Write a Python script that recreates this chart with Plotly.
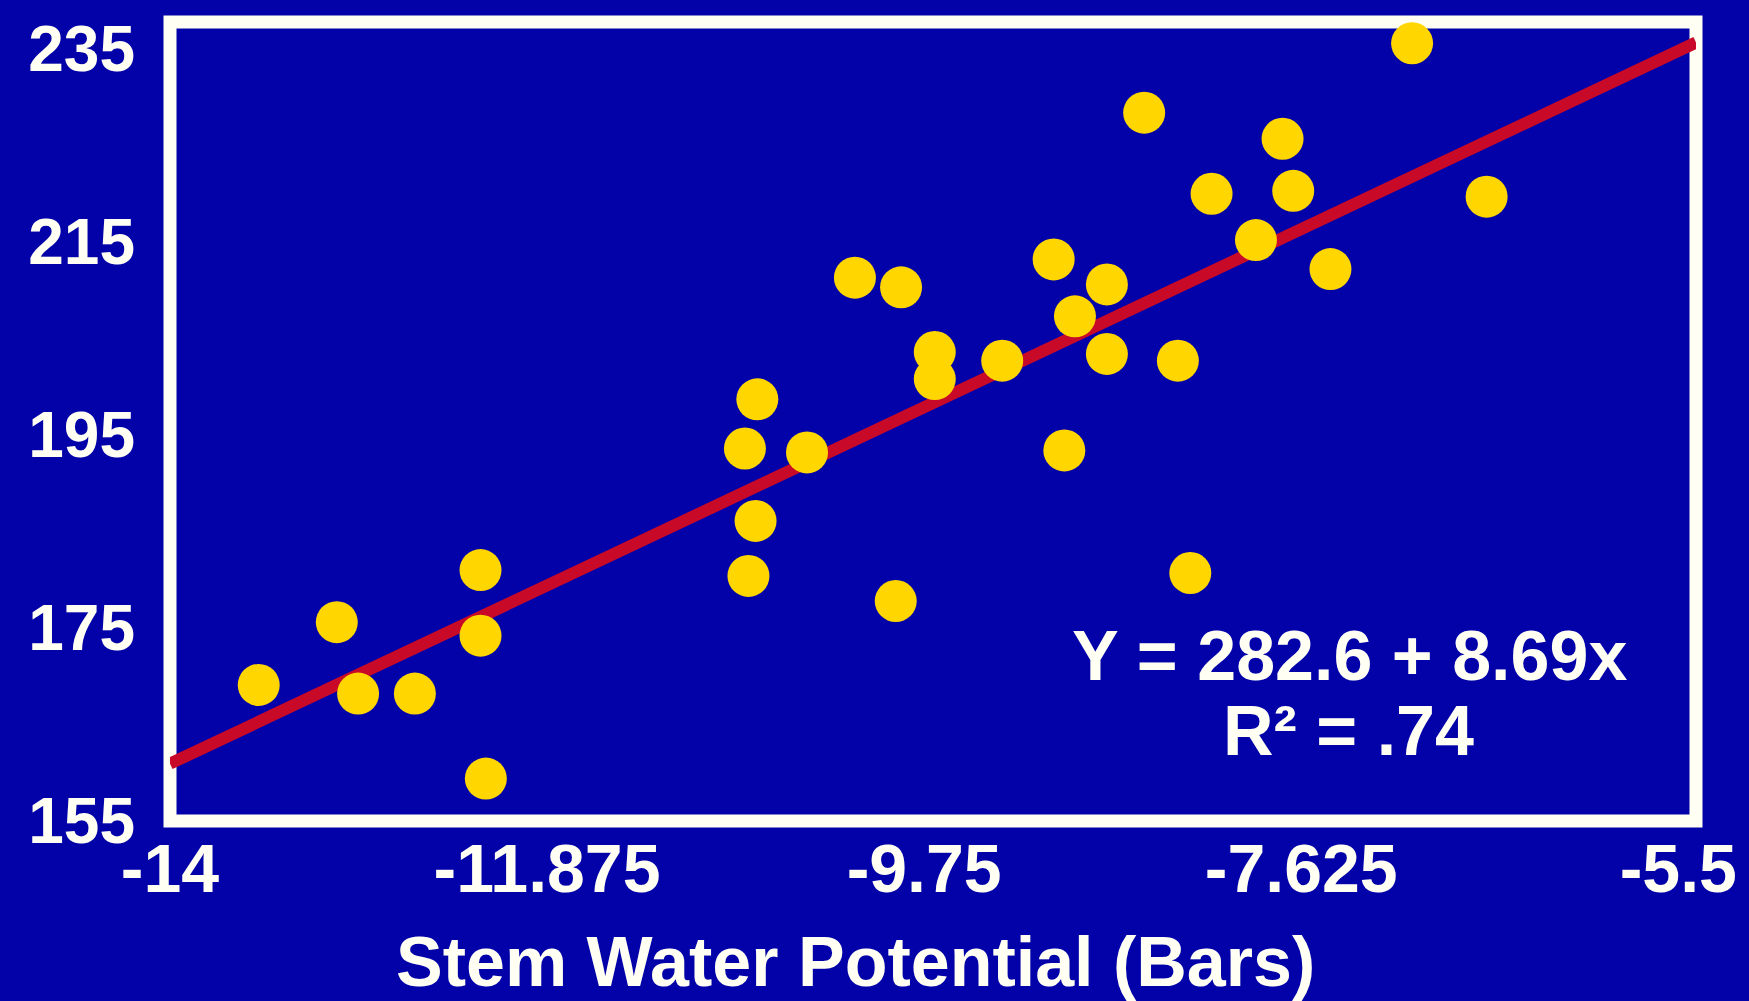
import plotly.graph_objects as go

# ---- data ----
stem_water_potential = [-13.50, -13.06, -12.94, -12.62, -12.25, -12.25, -12.22,
                        -10.76, -10.69, -10.70, -10.74, -10.41, -10.14, -9.88,
                        -9.69, -9.69, -9.91, -9.31, -9.02, -8.90, -8.72, -8.72,
                        -8.96, -8.51, -8.32, -8.25, -8.13, -7.88, -7.73, -7.67,
                        -7.46, -7.00, -6.58]
response_values = [169.1, 175.6, 168.2, 168.2, 181.0, 174.2, 159.4,
                   193.6, 198.7, 186.1, 180.4, 193.2, 211.3, 210.3,
                   203.6, 200.8, 177.8, 202.7, 213.2, 207.3, 210.6, 203.4,
                   193.4, 228.4, 202.7, 180.7, 220.0, 215.2, 225.7, 220.3,
                   212.2, 235.6, 219.7]

fit_intercept = 282.6
fit_slope = 8.69
fit_x = [-14.0, -5.4]

x_tick_vals = [-14, -11.875, -9.75, -7.625, -5.5]
x_tick_text = ["-14", "-11.875", "-9.75", "-7.625", "-5.5"]
y_tick_vals = [155, 175, 195, 215, 235]
y_tick_text = ["155", "175", "195", "215", "235"]

x_title = "Stem Water Potential (Bars)"
eq_line1 = "Y = 282.6 + 8.69x"
eq_line2 = "R² = .74"

# ---- styling ----
BG = "#0202A8"
YELLOW = "#FFD600"
RED = "#C80A28"
WHITE = "#FFFFF4"
FONT = "Liberation Sans"

fit_y = [fit_intercept + fit_slope * v for v in fit_x]

fig = go.Figure()
fig.add_trace(go.Scatter(
    x=fit_x, y=fit_y, mode="lines",
    line=dict(color=RED, width=12),
    hoverinfo="skip", showlegend=False,
))
fig.add_trace(go.Scatter(
    x=stem_water_potential, y=response_values, mode="markers",
    marker=dict(color=YELLOW, size=42, line=dict(width=0)),
    cliponaxis=False, showlegend=False,
))

fig.update_layout(
    width=1749, height=1001,
    margin=dict(l=170, r=47, t=22, b=180),
    paper_bgcolor=BG, plot_bgcolor=BG,
    font=dict(family=FONT, color=WHITE),
    showlegend=False,
    xaxis=dict(
        range=[-14, -5.4], tickvals=x_tick_vals, ticktext=x_tick_text,
        showgrid=False, zeroline=False, showline=False, ticks="",
        tickfont=dict(family=FONT, size=68, color=WHITE, weight="bold"),
        ticklabelstandoff=2,
    ),
    yaxis=dict(
        range=[155, 237.8], tickvals=y_tick_vals, ticktext=y_tick_text,
        showgrid=False, zeroline=False, showline=False, ticks="",
        tickfont=dict(family=FONT, size=64, color=WHITE, weight="bold"),
        ticklabelstandoff=34,
    ),
    shapes=[dict(
        type="rect", xref="paper", yref="paper", x0=0, x1=1, y0=0, y1=1,
        line=dict(color=WHITE, width=13), layer="below",
    )],
    annotations=[
        dict(text=x_title, xref="paper", yref="paper", x=0.449, y=-0.1765,
             xanchor="center", yanchor="middle", showarrow=False,
             font=dict(family=FONT, size=70, color=WHITE, weight="bold")),
        dict(text=eq_line1, xref="paper", yref="paper", x=0.773, y=0.2065,
             xanchor="center", yanchor="middle", showarrow=False,
             font=dict(family=FONT, size=70, color=WHITE, weight="bold")),
        dict(text=eq_line2, xref="paper", yref="paper", x=0.772, y=0.1126,
             xanchor="center", yanchor="middle", showarrow=False,
             font=dict(family=FONT, size=70, color=WHITE, weight="bold")),
    ],
)

fig.write_html("out.html",
               config={"displayModeBar": False},
               post_script="document.body.style.margin='0';document.body.style.overflow='hidden';")
